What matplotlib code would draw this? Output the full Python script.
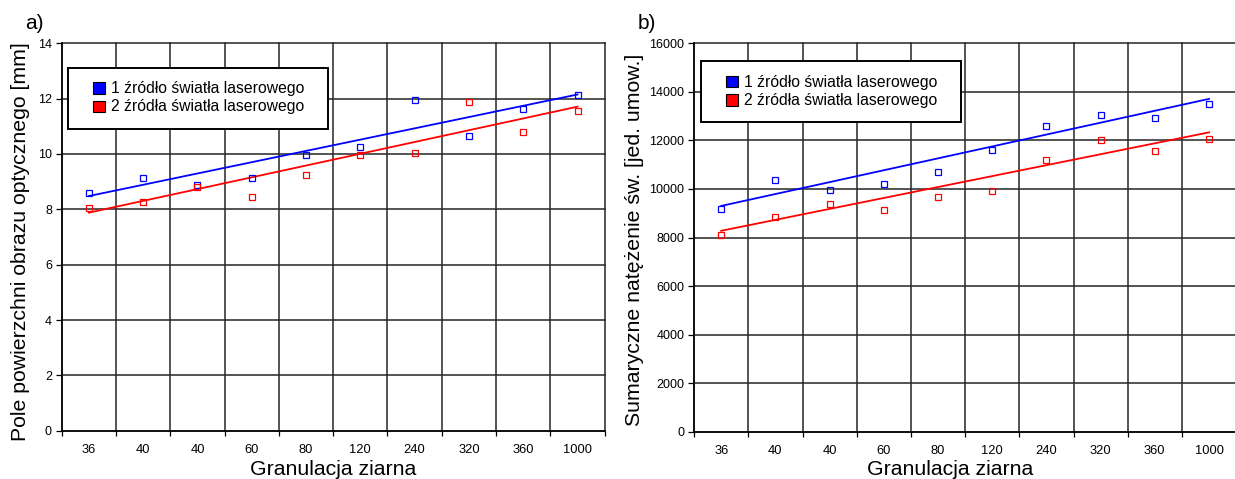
import matplotlib
matplotlib.use("Agg")
import matplotlib.pyplot as plt
from matplotlib.patches import Rectangle

plt.rcParams['font.family'] = ['Liberation Sans', 'DejaVu Sans']

# ---- data -------------------------------------------------------------
categories = ["36", "40", "40", "60", "80", "120", "240", "320", "360", "1000"]

# a) image area [mm]
area_one_source = [8.60, 9.14, 8.88, 9.12, 9.97, 10.24, 11.95, 10.66, 11.61, 12.13]
area_two_sources = [8.05, 8.25, 8.81, 8.43, 9.23, 9.95, 10.04, 11.89, 10.80, 11.57]
area_trend_one = [8.48, 12.15]     # linear trend at first / last category
area_trend_two = [7.88, 11.71]

# b) summed light intensity [arb. units]
intensity_one_source = [9176, 10381, 9952, 10215, 10713, 11600, 12579, 13048, 12910, 13503]
intensity_two_sources = [8111, 8858, 9370, 9149, 9661, 9903, 11186, 12000, 11572, 12041]
intensity_trend_one = [9301, 13710]
intensity_trend_two = [8277, 12331]

series_labels = ["1 źródło światła laserowego", "2 źródła światła laserowego"]
series_colors = ["#0000FF", "#FF0000"]

# ---- figure -----------------------------------------------------------
W, H = 1235, 479
fig = plt.figure(figsize=(W / 100, H / 100), dpi=100)


def fx(x):
    return x / W


def fy(y):
    return 1 - y / H


ax1 = fig.add_axes([fx(61.7), fy(430.7), 543 / W, 387.4 / H])
ax2 = fig.add_axes([fx(694.1), fy(431.7), 542 / W, 388.4 / H])

grid_color = "#262626"


def style_axes(ax, ymax, ystep, ytick_size):
    n = len(categories)
    ax.set_xlim(-0.5, n - 0.5)
    ax.set_ylim(0, ymax)
    ax.set_xticks(range(n))
    ax.set_xticklabels(categories, fontsize=9.3)
    ax.set_xticks([i - 0.5 for i in range(n + 1)], minor=True)
    ax.tick_params(axis="x", which="major", length=0, pad=9.5)
    ax.tick_params(axis="x", which="minor", length=3.5, width=0.9,
                   direction="out", color="black")
    ax.set_yticks(range(0, ymax + 1, ystep))
    ax.tick_params(axis="y", which="major", length=4, width=0.9,
                   direction="out", pad=3, labelsize=ytick_size, color="black")
    ax.grid(axis="y", which="major", color=grid_color, lw=1.1, clip_on=False)
    ax.grid(axis="x", which="minor", color=grid_color, lw=1.1, clip_on=False)
    ax.set_axisbelow(True)
    for s in ("top", "right"):
        ax.spines[s].set_visible(False)
    for s in ("left", "bottom"):
        ax.spines[s].set_color("black")
        ax.spines[s].set_linewidth(1.1)


def draw_series(ax, values, trend, color):
    x = list(range(len(values)))
    ax.plot([x[0], x[-1]], trend, color=color, lw=1.3, zorder=3)
    ax.plot(x, values, ls="none", marker="s", ms=4, mfc="none",
            mec=color, mew=0.9, zorder=4)


style_axes(ax1, 14, 2, 9)
style_axes(ax2, 16000, 2000, 9)

draw_series(ax1, area_one_source, area_trend_one, series_colors[0])
draw_series(ax1, area_two_sources, area_trend_two, series_colors[1])
draw_series(ax2, intensity_one_source, intensity_trend_one, series_colors[0])
draw_series(ax2, intensity_two_sources, intensity_trend_two, series_colors[1])

# axis titles
ax1.set_xlabel("Granulacja ziarna", fontsize=15.3)
ax2.set_xlabel("Granulacja ziarna", fontsize=15.3)
ax1.set_ylabel("Pole powierzchni obrazu optycznego [mm]", fontsize=15.3)
ax2.set_ylabel("Sumaryczne natężenie św. [jed. umow.]", fontsize=15.3)

for ax, xc, bottom_px, height_px in ((ax1, 0.5, 430.7, 387.4),
                                     (ax2, 0.473, 431.7, 388.4)):
    ax.xaxis.label.set_verticalalignment("baseline")
    ax.xaxis.set_label_coords(xc, (bottom_px - 475) / height_px)

ax1.yaxis.label.set_verticalalignment("baseline")
ax2.yaxis.label.set_verticalalignment("baseline")
ax1.yaxis.set_label_coords((25.7 - 61.7) / 543, 0.488)
ax2.yaxis.set_label_coords((640.4 - 694.1) / 542, 0.4935)

# panel letters
fig.text(fx(25), fy(29), "a)", fontsize=15, va="baseline", ha="left")
fig.text(fx(638), fy(29), "b)", fontsize=15, va="baseline", ha="left")


# legends
def draw_legend(box, marker_x, marker_rows, text_x, baselines):
    x0, y0, x1, y1 = box
    fig.patches.append(Rectangle((fx(x0), fy(y1)), fx(x1) - fx(x0), fy(y0) - fy(y1),
                                 transform=fig.transFigure, facecolor="white",
                                 edgecolor="black", lw=1.4, zorder=5))
    for (ry0, ry1), base, label, color in zip(marker_rows, baselines,
                                              series_labels, series_colors):
        fig.patches.append(Rectangle((fx(marker_x[0]), fy(ry1)),
                                     fx(marker_x[1]) - fx(marker_x[0]),
                                     fy(ry0) - fy(ry1),
                                     transform=fig.transFigure, facecolor=color,
                                     edgecolor="black", lw=0.8, zorder=6))
        fig.text(fx(text_x), fy(base), label, fontsize=11.3, va="baseline",
                 ha="left", zorder=7)


draw_legend((68, 67.5, 327.7, 129), (93, 105), [(82.5, 93.5), (101, 111.5)],
            111.3, [92.7, 111])
draw_legend((700.7, 61, 961, 122), (726.3, 738.3), [(76, 87), (94.5, 105.5)],
            744, [86.7, 104.7])

fig.savefig("out.png", dpi=100)
